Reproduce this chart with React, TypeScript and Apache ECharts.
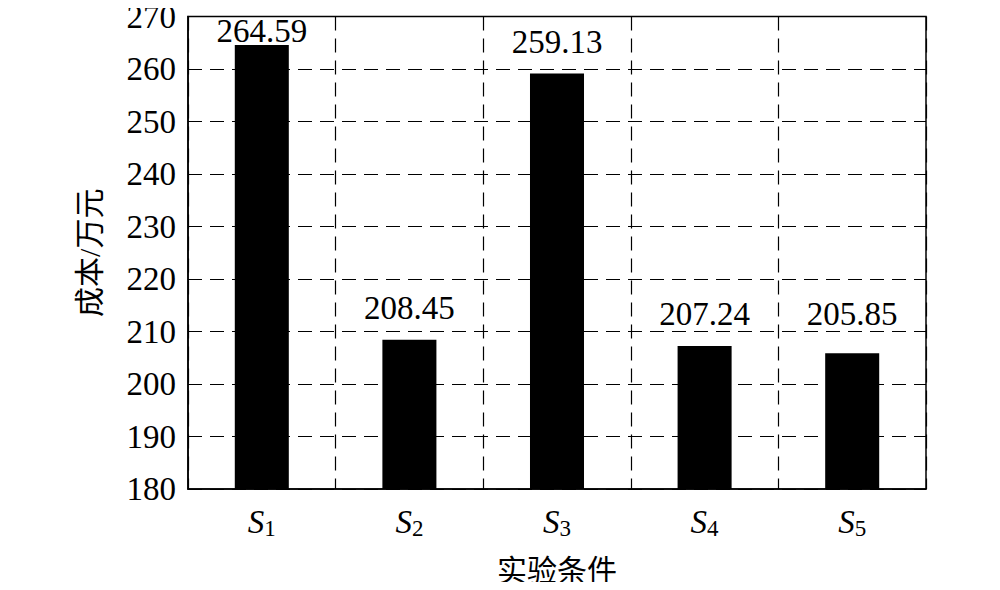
import React, { useEffect, useRef } from 'react';
import * as echarts from 'echarts';

const categories = ['1', '2', '3', '4', '5'];
const costs = [264.59, 208.45, 259.13, 207.24, 205.85];
const yTicks = { min: 180, max: 270, interval: 10 };

const serif = '"Liberation Serif", "Times New Roman", serif';
const cjk = '"Liberation Serif", "Noto Sans CJK SC", serif';

const CostBarChart: React.FC = () => {
  const chartRef = useRef<HTMLDivElement | null>(null);

  useEffect(() => {
    const chart = echarts.init(chartRef.current!, null, { renderer: 'svg' });

    // label offsets follow the source figure: the tallest one is squeezed under the
    // top border, the last one is lifted to line up with its neighbour
    const barData = costs.map((v, i) => {
      if (v > yTicks.max - 8) return { value: v, label: { distance: -3 } };
      if (i === costs.length - 1) return { value: v, label: { distance: 23 } };
      return v;
    });

    const option: echarts.EChartsOption = {
      animation: false,
      backgroundColor: '#fff',
      grid: {
        left: 188,
        right: 74,
        top: 16,
        bottom: 96,
        show: true,
        borderColor: '#000',
        borderWidth: 1.5,
      },
      xAxis: {
        type: 'category',
        data: categories,
        name: '实验条件',
        nameLocation: 'middle',
        nameGap: 66,
        nameTextStyle: { fontFamily: cjk, fontSize: 30, color: '#000' },
        axisLine: { lineStyle: { color: '#000', width: 1.5 } },
        axisTick: { show: false },
        axisLabel: {
          margin: 14,
          formatter: (v: string) => `{s|S}{sub|${v}}`,
          rich: {
            s: { fontFamily: serif, fontStyle: 'italic', fontSize: 33, color: '#000' },
            sub: {
              fontFamily: serif,
              fontSize: 23,
              color: '#000',
              verticalAlign: 'bottom',
              padding: [14, 0, 0, 0],
            },
          },
        },
        splitLine: {
          show: true,
          lineStyle: { color: '#000', type: [14, 8], width: 1.2 },
        },
      },
      yAxis: {
        type: 'value',
        min: yTicks.min,
        max: yTicks.max,
        interval: yTicks.interval,
        name: '成本/万元',
        nameLocation: 'middle',
        nameGap: 84,
        nameRotate: 90,
        nameTextStyle: { fontFamily: cjk, fontSize: 30, color: '#000' },
        axisLine: { show: true, lineStyle: { color: '#000', width: 1.5 } },
        axisTick: { show: false },
        axisLabel: {
          margin: 12,
          fontFamily: serif,
          fontSize: 33,
          color: '#000',
        },
        splitLine: {
          show: true,
          lineStyle: { color: '#000', type: [14, 8], width: 1.2 },
        },
      },
      series: [
        {
          type: 'bar',
          data: barData as any,
          barWidth: '36.6%',
          itemStyle: { color: '#000' },
          label: {
            show: true,
            position: 'top',
            distance: 15,
            fontFamily: serif,
            fontSize: 33,
            color: '#000',
            formatter: (p: any) => Number(p.value).toFixed(2),
          },
        },
      ],
    };

    chart.setOption(option);

    return () => {
      chart.dispose();
    };
  }, []);

  return <div ref={chartRef} style={{ width: '1000px', height: '590px', margin: '-8px' }} />;
};

export default function App() {
  return <CostBarChart />;
}
